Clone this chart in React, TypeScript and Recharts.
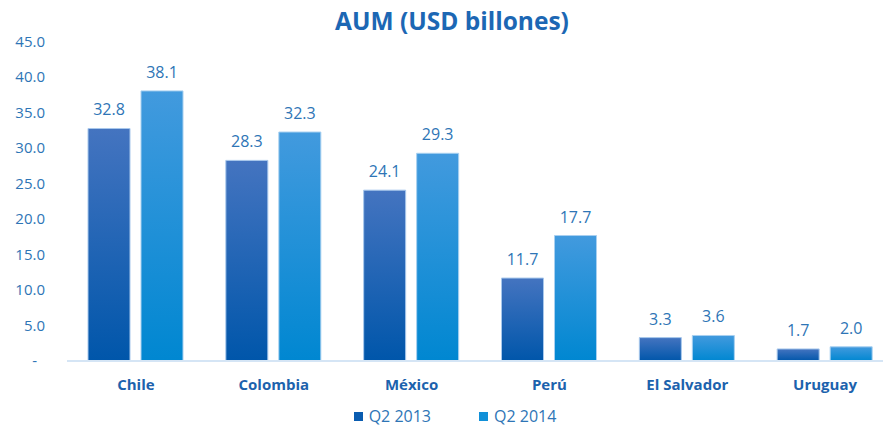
import React from "react";
import { BarChart, Bar, XAxis, YAxis, Legend, LabelList } from "recharts";

const categories = ["Chile", "Colombia", "México", "Perú", "El Salvador", "Uruguay"];
const q2_2013 = [32.8, 28.3, 24.1, 11.7, 3.3, 1.7];
const q2_2014 = [38.1, 32.3, 29.3, 17.7, 3.6, 2.0];
const yTicks = [0, 5, 10, 15, 20, 25, 30, 35, 40, 45];

const data = categories.map((c, i) => ({ name: c, a: q2_2013[i], b: q2_2014[i] }));

const FONT = "'Open Sans', 'Noto Sans', sans-serif";
const BLUE = "#2e75b6";
const markerColors: Record<string, string> = { a: "#0a5cb0", b: "#1190d8" };

const YTick = (props: any) => {
  const { y, payload } = props;
  const v = payload.value;
  const label = v === 0 ? "-" : v.toFixed(1);
  return (
    <text x={v === 0 ? 37 : 45} y={y} dy={5} textAnchor="end" fill={BLUE} fontSize={15} fontFamily={FONT}>
      {label}
    </text>
  );
};

const XTick = (props: any) => {
  const { x, y, payload } = props;
  return (
    <text x={x} y={y} dy={21} textAnchor="middle" fill="#1c62ad" fontSize={15} fontWeight="bold" fontFamily={FONT}>
      {payload.value}
    </text>
  );
};

const LegendContent = (props: any) => {
  const { payload } = props;
  return (
    <div style={{ display: "flex", justifyContent: "center", gap: 48, fontFamily: FONT, fontSize: 16, color: BLUE }}>
      {(payload || []).map((p: any) => (
        <div key={p.value} style={{ display: "flex", alignItems: "center" }}>
          <span style={{ display: "inline-block", width: 9, height: 9, background: markerColors[p.dataKey] || p.color, marginRight: 6 }} />
          <span>{p.value}</span>
        </div>
      ))}
    </div>
  );
};

export default function App() {
  return (
    <div style={{ position: "absolute", left: 0, top: 0, width: 883, height: 427, overflow: "hidden", background: "#fff" }}>
      <div
        style={{
          position: "absolute",
          left: 0,
          width: 900,
          top: 4,
          textAlign: "center",
          fontFamily: FONT,
          fontWeight: "bold",
          fontSize: 24.5,
          color: "#1c67b4",
          paddingLeft: 2,
        }}
      >
        AUM (USD billones)
      </div>
      <BarChart
        width={900}
        height={427}
        data={data}
        margin={{ top: 42, right: 6, bottom: 14, left: 0 }}
        barCategoryGap={21}
        barGap={11}
      >
        <defs>
          <linearGradient id="gA" x1="0" y1="0" x2="0" y2="1">
            <stop offset="0%" stopColor="#4474c0" />
            <stop offset="100%" stopColor="#0056aa" />
          </linearGradient>
          <linearGradient id="gB" x1="0" y1="0" x2="0" y2="1">
            <stop offset="0%" stopColor="#429ade" />
            <stop offset="100%" stopColor="#0087d1" />
          </linearGradient>
        </defs>
        <XAxis
          dataKey="name"
          axisLine={{ stroke: "#d5e5f5", strokeWidth: 2 }}
          tickLine={false}
          tick={<XTick />}
          height={30}
          interval={0}
        />
        <YAxis
          width={67}
          domain={[0, 45]}
          ticks={yTicks}
          axisLine={false}
          tickLine={false}
          tick={<YTick />}
          interval={0}
        />
        <Legend
          content={<LegendContent />}
          wrapperStyle={{ top: 405, left: 0, width: 910 }}
        />
        <Bar dataKey="a" name="Q2 2013" fill="url(#gA)" stroke="#a8c8ec" strokeWidth={1} isAnimationActive={false}>
          <LabelList dataKey="a" position="top" offset={13} fill={BLUE} fontSize={16} fontFamily={FONT} formatter={(v: any) => Number(v).toFixed(1)} />
        </Bar>
        <Bar dataKey="b" name="Q2 2014" fill="url(#gB)" stroke="#a8d0f0" strokeWidth={1} isAnimationActive={false}>
          <LabelList dataKey="b" position="top" offset={13} fill={BLUE} fontSize={16} fontFamily={FONT} formatter={(v: any) => Number(v).toFixed(1)} />
        </Bar>
      </BarChart>
    </div>
  );
}
